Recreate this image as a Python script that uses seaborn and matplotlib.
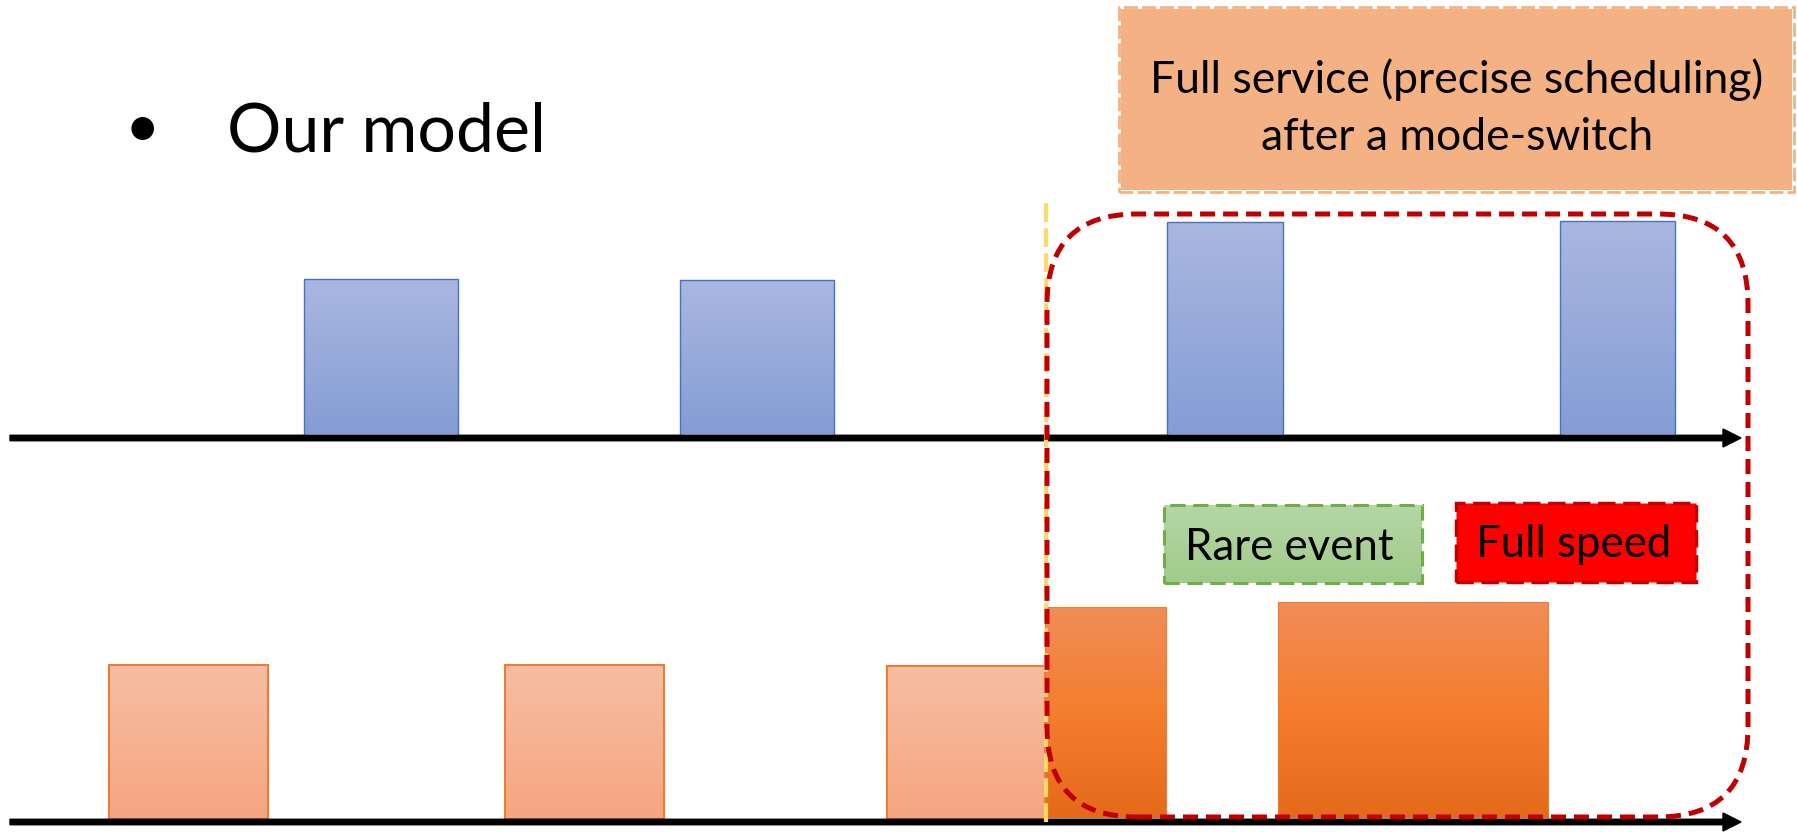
import numpy as np
import matplotlib
matplotlib.use("Agg")
import matplotlib.pyplot as plt
import seaborn as sns
from matplotlib.patches import FancyBboxPatch, Rectangle, FancyArrow
from matplotlib.colors import LinearSegmentedColormap

# ---- timeline data (time units on x, demand / service level on y) ----
task_start = [30.4, 68.0, 116.7, 156.0]
task_length = [15.4, 15.4, 11.6, 11.5]
task_demand = [15.6, 15.5, 21.2, 21.4]

degraded_start = [10.9, 50.5, 88.7]
degraded_length = [15.9, 15.9, 15.8]
degraded_level = [15.4, 15.4, 15.3]

fullspeed_start = [104.5, 127.8]
fullspeed_length = [12.1, 27.0]
fullspeed_level = [21.2, 21.7]

mode_switch_time = 104.6

title_text = "Our model"
header_lines = ["Full service (precise scheduling)", "after a mode-switch"]
rare_label = "Rare event"
speed_label = "Full speed"

# ---- layout ----
TOP_BASE = 39.4      # baseline of the task timeline
BOT_BASE = 1.0       # baseline of the service timeline
T_END = 174.1

sns.set_theme(style="white")
plt.rcParams["font.family"] = ["Lato", "DejaVu Sans"]

fig = plt.figure(figsize=(17.97, 8.32), dpi=100)
ax = fig.add_axes([0, 0, 1, 1])
ax.set_xlim(0, 179.7)
ax.set_ylim(0, 83.2)
ax.axis("off")


def gradient_bars(starts, lengths, heights, base, colors, edge, lw):
    bars = ax.bar(starts, heights, width=lengths, bottom=base, align="edge",
                  facecolor="none", edgecolor=edge, linewidth=lw, zorder=3)
    cmap = LinearSegmentedColormap.from_list("g", colors)
    grad = np.linspace(0, 1, 256).reshape(-1, 1)
    for p in bars.patches:
        x0, y0 = p.get_x(), p.get_y()
        im = ax.imshow(grad, extent=[x0, x0 + p.get_width(), y0, y0 + p.get_height()],
                       origin="lower", aspect="auto", cmap=cmap, zorder=2.9,
                       interpolation="bilinear")
        im.set_clip_path(p)
    return bars


# task demands (top row)
gradient_bars(task_start, task_length, task_demand, TOP_BASE + 0.35,
              ["#859DD5", "#AAB7E0"], "#4472C4", 1.0)
# degraded service (bottom row)
gradient_bars(degraded_start, degraded_length, degraded_level, BOT_BASE + 0.35,
              ["#F6A582", "#F7BEA3"], "#ED7D31", 1.5)
# full-speed service after the switch
gradient_bars(fullspeed_start, fullspeed_length, fullspeed_level, BOT_BASE + 0.35,
              ["#E46A1A", "#F47E2E", "#F08D58"], "#ED7D31", 0.8)

# time axes with arrow heads
for base in (TOP_BASE, BOT_BASE):
    ax.add_patch(FancyArrow(1.0, base, T_END - 1.0, 0, width=0.55, head_width=1.8,
                            head_length=1.8, length_includes_head=True,
                            color="black", zorder=4))

# mode-switch marker
ax.plot([mode_switch_time, mode_switch_time], [BOT_BASE, 63.5], color="#FFD966",
        lw=3.0, linestyle=(0, (4.5, 1.5)), zorder=5, solid_capstyle="butt")

# highlighted region after the switch
ax.add_patch(FancyBboxPatch((104.7, 1.5), 70.1, 60.3,
                            boxstyle="round,pad=0,rounding_size=9",
                            fill=False, ec="#C00000", lw=3.6,
                            linestyle=(0, (3, 1.6)), zorder=6))

# header callout
ax.add_patch(Rectangle((112.1, 64.2), 67.1, 18.1, facecolor="#F4B183",
                       edgecolor="none", zorder=5))
ax.add_patch(Rectangle((111.9, 64.0), 67.5, 18.5, facecolor="none",
                       edgecolor="#F4B183", lw=2.0, linestyle=(0, (5, 1.5)), zorder=5))
for line, yb in zip(header_lines, (73.9, 68.2)):
    ax.text(145.7, yb, line, ha="center", va="baseline", fontsize=32,
            color="black", zorder=7)

# rare-event label
cmap_g = LinearSegmentedColormap.from_list("green", ["#A0CB8B", "#B5D6A5"])
ax.imshow(np.linspace(0, 1, 128).reshape(-1, 1), extent=[116.4, 142.2, 24.9, 32.7],
          origin="lower", aspect="auto", cmap=cmap_g, zorder=5)
ax.add_patch(Rectangle((116.4, 24.9), 25.8, 7.8, facecolor="none",
                       edgecolor="#70AD47", lw=2.2, linestyle=(0, (5, 2.5)), zorder=6))
ax.text(128.9, 27.2, rare_label, ha="center", va="baseline", fontsize=31.5,
        color="black", zorder=7)

# full-speed label
ax.add_patch(Rectangle((145.6, 25.0), 24.0, 7.9, facecolor="#FF0000",
                       edgecolor="#C00000", lw=2.5, linestyle=(0, (5, 2.2)), zorder=6))
ax.text(157.4, 27.5, speed_label, ha="center", va="baseline", fontsize=31.5,
        color="black", zorder=7)

# bullet title
ax.text(14.2, 68.5, "\u2022", ha="center", va="baseline", fontsize=44, color="black")
ax.text(22.7, 68.1, title_text, ha="left", va="baseline", fontsize=49, color="black")

ax.set_xlim(0, 179.7)
ax.set_ylim(0, 83.2)
fig.savefig("out.png", dpi=100)
